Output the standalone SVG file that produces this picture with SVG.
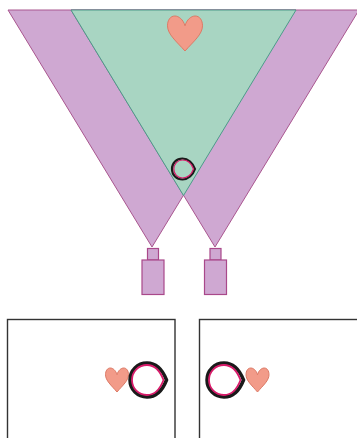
<svg xmlns="http://www.w3.org/2000/svg" width="357" height="438" viewBox="0 0 357 438">
  <style>
    .cone { fill: #cfa8d2; stroke: #a9568f; stroke-width: 1; stroke-linejoin: round; }
    .overlap { fill: #a8d5c2; stroke: #4c9c8a; stroke-width: 1; stroke-linejoin: round; }
    .cam { fill: #cfa8d2; stroke: #a9488a; stroke-width: 1.2; }
    .heart { fill: #f29b89; stroke: #dd7a66; stroke-width: 1; }
    .ring { fill: #ffffff; stroke: #1a1a1a; stroke-width: 3.5; }
    .ringInner { fill: none; stroke: #d81b6a; stroke-width: 1.8; }
    .ringSmall { fill: none; stroke: #1a1a1a; stroke-width: 2.2; }
    .ringSmallInner { fill: none; stroke: #d81b6a; stroke-width: 1.2; }
    .panel { fill: #ffffff; stroke: #333333; stroke-width: 1.4; }
  </style>

  <!-- viewing cones of the two cameras -->
  <g id="cone-left">
    <polygon class="cone" points="8,10 296,10 152,247"/>
  </g>
  <g id="cone-right">
    <polygon class="cone" points="71,10 359,10 215,247"/>
  </g>
  <g id="cone-overlap">
    <polygon class="overlap" points="71,10 296,10 183.5,195.5"/>
  </g>

  <!-- objects in the scene -->
  <g id="heart-scene">
    <path class="heart" d="M185,25.8 C183.25,19.5 178.7,16 174.85,16 C170.3,16 167.5,20.2 167.5,25.8 C167.5,34.2 176.25,41.2 185,51 C193.75,41.2 202.5,34.2 202.5,25.8 C202.5,20.2 199.7,16 195.15,16 C191.3,16 186.75,19.5 185,25.8 Z"/>
  </g>
  <g id="ring-scene">
    <path class="ringSmall" d="M195,169 C193,175 188,179.5 182.5,179.5 C176.5,179.5 172,175 172,169 C172,163 176.5,158.5 182.5,158.5 C188,158.5 193,163 195,169 Z"/>
    <path class="ringSmallInner" d="M193.5,169 C191.5,174.5 187.5,178 182.5,178 C177.5,178 173.8,174 173.8,169 C173.8,164 177.5,160 182.5,160 C187.5,160 191.5,163.5 193.5,169 Z"/>
  </g>

  <!-- cameras -->
  <g id="camera-left">
    <rect class="cam" x="147.5" y="248.5" width="11" height="11.5"/>
    <rect class="cam" x="142" y="260" width="22" height="34.5"/>
  </g>
  <g id="camera-right">
    <rect class="cam" x="210" y="248.5" width="11" height="11.5"/>
    <rect class="cam" x="204.5" y="260" width="22" height="34.5"/>
  </g>

  <!-- image planes -->
  <g id="view-left">
    <rect class="panel" x="7.5" y="319.5" width="167.5" height="130"/>
    <path class="heart" d="M117,374.72 C115.85,370.4 112.86,368 110.33,368 C107.34,368 105.5,370.88 105.5,374.72 C105.5,380.48 111.25,385.28 117,392 C122.75,385.28 128.5,380.48 128.5,374.72 C128.5,370.88 126.66,368 123.67,368 C121.14,368 118.15,370.4 117,374.72 Z"/>
    <path class="ring" d="M166.5,380 C163,389 156.5,397 147,397 C137.5,397 130,389.5 130,380 C130,370.5 137.5,363 147,363 C156.5,363 163,371 166.5,380 Z"/>
    <path class="ringInner" d="M163.5,380 C160.5,388 155,395 147,395 C138.5,395 132,388.5 132,380 C132,371.5 138.5,365 147,365 C155,365 160.5,372 163.5,380 Z"/>
  </g>
  <g id="view-right">
    <rect class="panel" x="199.5" y="319.5" width="170" height="130"/>
    <path class="heart" d="M257.5,374.72 C256.35,370.4 253.36,368 250.83,368 C247.84,368 246,370.88 246,374.72 C246,380.48 251.75,385.28 257.5,392 C263.25,385.28 269,380.48 269,374.72 C269,370.88 267.16,368 264.17,368 C261.64,368 258.65,370.4 257.5,374.72 Z"/>
    <path class="ring" d="M243.5,380 C240,389 233.5,397 224,397 C214.5,397 207,389.5 207,380 C207,370.5 214.5,363 224,363 C233.5,363 240,371 243.5,380 Z"/>
    <path class="ringInner" d="M240.5,380 C237.5,388 232,395 224,395 C215.5,395 209,388.5 209,380 C209,371.5 215.5,365 224,365 C232,365 237.5,372 240.5,380 Z"/>
  </g>

  <g id="connectors"/>
</svg>
